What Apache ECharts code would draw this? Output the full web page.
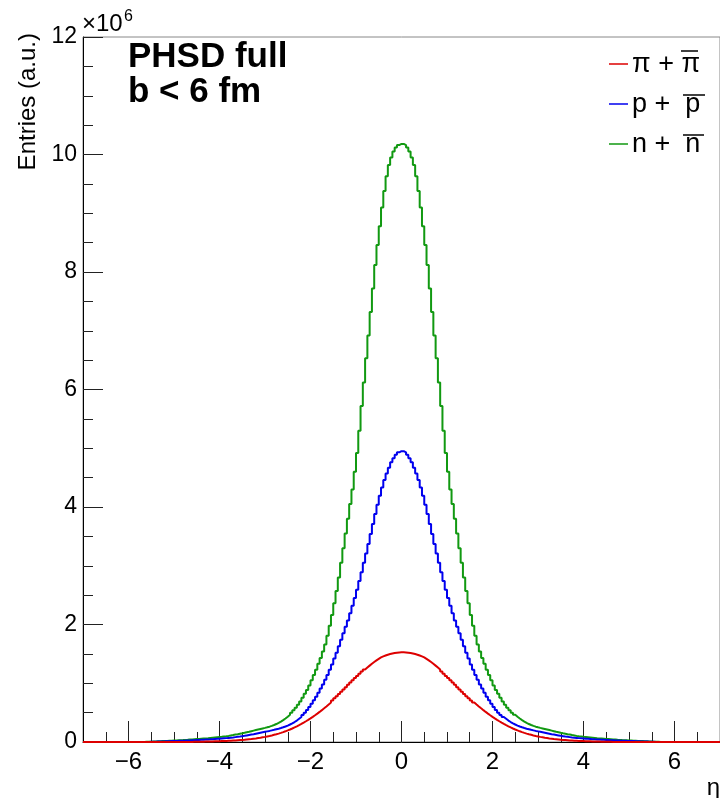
<!DOCTYPE html>
<html>
<head>
<meta charset="utf-8">
<title>PHSD full - eta distribution</title>
<script src="https://cdn.jsdelivr.net/npm/echarts@6/dist/echarts.min.js"></script>
<style>
    html, body { margin: 0; padding: 0; background: #fff; }
    #chart { width: 720px; height: 798px; }
</style>
</head>
<body>
<div id="chart"></div>
<script>
// histogram binning: 240 bins of 0.05 from -6 to 6 (empty outside)
const binStart = -6
const binWidth = 0.05

// entries per bin, in units of 1e6
const pionValues = [
    0, 0, 0, 0, 0, 0, 0, 0, 0, 0,
    0, 0, 0, 0, 0, 0, 0, 0, 0, 0,
    0, 0, 0, 0, 0.001, 0.001, 0.002, 0.002, 0.003, 0.003,
    0.004, 0.005, 0.006, 0.007, 0.008, 0.009, 0.01, 0.011, 0.012, 0.013,
    0.015, 0.016, 0.018, 0.02, 0.022, 0.025, 0.027, 0.03, 0.033, 0.036,
    0.039, 0.043, 0.047, 0.051, 0.056, 0.061, 0.067, 0.073, 0.08, 0.087,
    0.095, 0.103, 0.112, 0.122, 0.132, 0.143, 0.155, 0.168, 0.182, 0.197,
    0.213, 0.23, 0.248, 0.267, 0.287, 0.308, 0.33, 0.353, 0.377, 0.402,
    0.428, 0.455, 0.483, 0.512, 0.542, 0.573, 0.605, 0.638, 0.672, 0.707,
    0.743, 0.78, 0.818, 0.856, 0.895, 0.934, 0.973, 1.012, 1.05, 1.088,
    1.125, 1.162, 1.198, 1.233, 1.267, 1.30, 1.332, 1.362, 1.39, 1.415,
    1.44, 1.457, 1.472, 1.486, 1.497, 1.506, 1.514, 1.52, 1.525, 1.527,
    1.527, 1.525, 1.52, 1.514, 1.506, 1.497, 1.486, 1.472, 1.457, 1.44,
    1.415, 1.39, 1.362, 1.332, 1.30, 1.267, 1.233, 1.198, 1.162, 1.125,
    1.088, 1.05, 1.012, 0.973, 0.934, 0.895, 0.856, 0.818, 0.78, 0.743,
    0.707, 0.672, 0.638, 0.605, 0.573, 0.542, 0.512, 0.483, 0.455, 0.428,
    0.402, 0.377, 0.353, 0.33, 0.308, 0.287, 0.267, 0.248, 0.23, 0.213,
    0.197, 0.182, 0.168, 0.155, 0.143, 0.132, 0.122, 0.112, 0.103, 0.095,
    0.087, 0.08, 0.073, 0.067, 0.061, 0.056, 0.051, 0.047, 0.043, 0.039,
    0.036, 0.033, 0.03, 0.027, 0.025, 0.022, 0.02, 0.018, 0.016, 0.015,
    0.013, 0.012, 0.011, 0.01, 0.009, 0.008, 0.007, 0.006, 0.005, 0.004,
    0.003, 0.003, 0.002, 0.002, 0.001, 0.001, 0, 0, 0, 0,
    0, 0, 0, 0, 0, 0, 0, 0, 0, 0,
    0, 0, 0, 0, 0, 0, 0, 0, 0, 0,
]
const protonValues = [
    0, 0, 0, 0, 0, 0, 0.001, 0.001, 0.002, 0.003,
    0.004, 0.005, 0.007, 0.008, 0.01, 0.011, 0.013, 0.014, 0.016, 0.017,
    0.019, 0.02, 0.022, 0.023, 0.024, 0.026, 0.027, 0.029, 0.031, 0.033,
    0.035, 0.037, 0.039, 0.041, 0.043, 0.045, 0.048, 0.051, 0.054, 0.057,
    0.060, 0.063, 0.066, 0.070, 0.074, 0.078, 0.083, 0.088, 0.093, 0.099,
    0.105, 0.112, 0.119, 0.126, 0.133, 0.141, 0.149, 0.157, 0.165, 0.173,
    0.181, 0.189, 0.198, 0.207, 0.217, 0.227, 0.238, 0.25, 0.264, 0.28,
    0.298, 0.318, 0.34, 0.365, 0.395, 0.425, 0.46, 0.50, 0.545, 0.595,
    0.65, 0.71, 0.77, 0.84, 0.91, 0.98, 1.06, 1.14, 1.23, 1.32,
    1.42, 1.52, 1.63, 1.74, 1.85, 1.96, 2.07, 2.19, 2.32, 2.45,
    2.59, 2.74, 2.89, 3.05, 3.21, 3.37, 3.54, 3.71, 3.88, 4.04,
    4.19, 4.33, 4.46, 4.57, 4.67, 4.76, 4.83, 4.89, 4.93, 4.95,
    4.95, 4.93, 4.89, 4.83, 4.76, 4.67, 4.57, 4.46, 4.33, 4.19,
    4.04, 3.88, 3.71, 3.54, 3.37, 3.21, 3.05, 2.89, 2.74, 2.59,
    2.45, 2.32, 2.19, 2.07, 1.96, 1.85, 1.74, 1.63, 1.52, 1.42,
    1.32, 1.23, 1.14, 1.06, 0.98, 0.91, 0.84, 0.77, 0.71, 0.65,
    0.595, 0.545, 0.50, 0.46, 0.425, 0.395, 0.365, 0.34, 0.318, 0.298,
    0.28, 0.264, 0.25, 0.238, 0.227, 0.217, 0.207, 0.198, 0.189, 0.181,
    0.173, 0.165, 0.157, 0.149, 0.141, 0.133, 0.126, 0.119, 0.112, 0.105,
    0.099, 0.093, 0.088, 0.083, 0.078, 0.074, 0.070, 0.066, 0.063, 0.060,
    0.057, 0.054, 0.051, 0.048, 0.045, 0.043, 0.041, 0.039, 0.037, 0.035,
    0.033, 0.031, 0.029, 0.027, 0.026, 0.024, 0.023, 0.022, 0.02, 0.019,
    0.017, 0.016, 0.014, 0.013, 0.011, 0.01, 0.008, 0.007, 0.005, 0.004,
    0.003, 0.002, 0.001, 0.001, 0, 0, 0, 0, 0, 0,
]
const neutronValues = [
    0, 0, 0, 0, 0.001, 0.001, 0.002, 0.003, 0.004, 0.006,
    0.008, 0.009, 0.011, 0.013, 0.015, 0.017, 0.019, 0.021, 0.023, 0.025,
    0.027, 0.029, 0.031, 0.033, 0.036, 0.038, 0.041, 0.043, 0.046, 0.049,
    0.052, 0.055, 0.058, 0.061, 0.064, 0.068, 0.072, 0.076, 0.080, 0.084,
    0.088, 0.093, 0.098, 0.104, 0.111, 0.118, 0.126, 0.133, 0.141, 0.148,
    0.156, 0.165, 0.174, 0.184, 0.194, 0.204, 0.213, 0.222, 0.231, 0.24,
    0.25, 0.261, 0.274, 0.289, 0.306, 0.326, 0.348, 0.373, 0.40, 0.43,
    0.463, 0.50, 0.54, 0.585, 0.635, 0.69, 0.755, 0.82, 0.885, 0.96,
    1.05, 1.14, 1.23, 1.33, 1.43, 1.54, 1.66, 1.81, 1.98, 2.16,
    2.36, 2.57, 2.80, 3.05, 3.30, 3.55, 3.80, 4.05, 4.30, 4.60,
    4.92, 5.30, 5.72, 6.12, 6.53, 6.92, 7.32, 7.72, 8.12, 8.46,
    8.78, 9.10, 9.38, 9.63, 9.82, 9.95, 10.05, 10.12, 10.16, 10.18,
    10.18, 10.16, 10.12, 10.05, 9.95, 9.82, 9.63, 9.38, 9.10, 8.78,
    8.46, 8.12, 7.72, 7.32, 6.92, 6.53, 6.12, 5.72, 5.30, 4.92,
    4.60, 4.30, 4.05, 3.80, 3.55, 3.30, 3.05, 2.80, 2.57, 2.36,
    2.16, 1.98, 1.81, 1.66, 1.54, 1.43, 1.33, 1.23, 1.14, 1.05,
    0.96, 0.885, 0.82, 0.755, 0.69, 0.635, 0.585, 0.54, 0.50, 0.463,
    0.43, 0.40, 0.373, 0.348, 0.326, 0.306, 0.289, 0.274, 0.261, 0.25,
    0.24, 0.231, 0.222, 0.213, 0.204, 0.194, 0.184, 0.174, 0.165, 0.156,
    0.148, 0.141, 0.133, 0.126, 0.118, 0.111, 0.104, 0.098, 0.093, 0.088,
    0.084, 0.080, 0.076, 0.072, 0.068, 0.064, 0.061, 0.058, 0.055, 0.052,
    0.049, 0.046, 0.043, 0.041, 0.038, 0.036, 0.033, 0.031, 0.029, 0.027,
    0.025, 0.023, 0.021, 0.019, 0.017, 0.015, 0.013, 0.011, 0.009, 0.008,
    0.006, 0.004, 0.003, 0.002, 0.001, 0.001, 0, 0, 0, 0,
]

const xMajorTicks = [-6, -4, -2, 0, 2, 4, 6]
const xMinorTicks = [-6.5, -6, -5.5, -5, -4.5, -4, -3.5, -3, -2.5, -2, -1.5, -1, -0.5,
    0, 0.5, 1, 1.5, 2, 2.5, 3, 3.5, 4, 4.5, 5, 5.5, 6, 6.5]

const legendItems = [
    { label: 'π + π', color: '#dd0000' },
    { label: 'p +  p', color: '#0000ee' },
    { label: 'n +  n', color: '#119911' },
]

const FONT = '"Liberation Sans", Arial, sans-serif'

// turn bin contents into a step outline from -7 to 7
const toSteps = (values) => {
    const pts = [[-7, 0]]
    values.forEach((v, i) => {
        pts.push([+(binStart + i * binWidth).toFixed(3), v])
    })
    pts.push([+(binStart + values.length * binWidth).toFixed(3), 0])
    pts.push([7, 0])
    return pts
}

const minusSign = (v) => String(v).replace('-', '\u2212')

const chart = echarts.init(document.getElementById('chart'), null, { renderer: 'canvas' })

const stepSeries = (name, values, color, z) => ({
    name,
    type: 'line',
    step: 'end',
    data: toSteps(values),
    showSymbol: false,
    silent: true,
    z,
    lineStyle: { color, width: 2 },
})

// legend drawn by hand so the antiparticle bar can sit over the symbol
const legendGraphics = []
legendItems.forEach((item, i) => {
    const y = 64 + i * 40
    legendGraphics.push({
        type: 'line',
        shape: { x1: 609, y1: y, x2: 628, y2: y },
        style: { stroke: item.color, lineWidth: 1.5 },
    })
    legendGraphics.push({
        type: 'text',
        x: 632,
        y: y + 1,
        style: { text: item.label, font: `27px ${FONT}`, fill: '#000', verticalAlign: 'middle' },
    })
})
const overlines = [
    { x1: 681, x2: 698, y: 51 },
    { x1: 683, x2: 705, y: 95 },
    { x1: 683, x2: 704, y: 135 },
]
overlines.forEach((o) => {
    legendGraphics.push({
        type: 'line',
        shape: { x1: o.x1, y1: o.y, x2: o.x2, y2: o.y },
        style: { stroke: '#000', lineWidth: 1.5 },
    })
})

chart.setOption({
    animation: false,
    backgroundColor: '#fff',
    grid: {
        left: 83,
        top: 37,
        width: 638,
        height: 705,
        show: true,
        borderColor: '#888',
        borderWidth: 1,
        backgroundColor: 'transparent',
    },
    xAxis: [
        {
            type: 'value',
            min: -7,
            max: 7,
            position: 'bottom',
            axisLine: { show: true, onZero: false, lineStyle: { color: '#000', width: 1 } },
            axisTick: {
                show: true,
                inside: true,
                length: 21,
                customValues: xMajorTicks,
                lineStyle: { color: '#222' },
            },
            axisLabel: {
                customValues: xMajorTicks,
                formatter: minusSign,
                color: '#000',
                fontSize: 24,
                fontFamily: FONT,
                margin: 8,
            },
            splitLine: { show: false },
        },
        {
            type: 'value',
            min: -7,
            max: 7,
            position: 'bottom',
            axisLine: { show: false },
            axisTick: {
                show: true,
                inside: true,
                length: 10,
                customValues: xMinorTicks,
                lineStyle: { color: '#222' },
            },
            axisLabel: { show: false },
            splitLine: { show: false },
        },
    ],
    yAxis: {
        type: 'value',
        min: 0,
        max: 12,
        interval: 2,
        axisLine: { show: true, onZero: false, lineStyle: { color: '#000', width: 1 } },
        axisTick: { show: true, inside: true, length: 20, lineStyle: { color: '#222' } },
        minorTick: { show: true, splitNumber: 4, length: 10, lineStyle: { color: '#222' } },
        axisLabel: {
            color: '#000',
            fontSize: 23,
            fontFamily: FONT,
            margin: 6,
        },
        splitLine: { show: false },
    },
    graphic: [
        {
            type: 'text',
            x: 82,
            y: 24,
            style: { text: '×10', font: `24px ${FONT}`, fill: '#000', verticalAlign: 'middle' },
        },
        {
            type: 'text',
            x: 124,
            y: 17,
            style: { text: '6', font: `16px ${FONT}`, fill: '#000', verticalAlign: 'middle' },
        },
        {
            type: 'text',
            x: 28,
            y: 33,
            rotation: Math.PI / 2,
            style: {
                text: 'Entries (a.u.)',
                font: `24px ${FONT}`,
                fill: '#000',
                align: 'right',
                verticalAlign: 'middle',
            },
        },
        {
            type: 'text',
            x: 720,
            y: 788,
            style: { text: 'η', font: `24px ${FONT}`, fill: '#000', align: 'right', verticalAlign: 'middle' },
        },
        {
            type: 'text',
            x: 128,
            y: 57,
            style: { text: 'PHSD full', font: `bold 35px ${FONT}`, fill: '#000', verticalAlign: 'middle' },
        },
        {
            type: 'text',
            x: 128,
            y: 92,
            style: { text: 'b < 6 fm', font: `bold 35px ${FONT}`, fill: '#000', verticalAlign: 'middle' },
        },
        ...legendGraphics,
    ],
    series: [
        stepSeries('n + n̄', neutronValues, '#119911', 2),
        stepSeries('p + p̄', protonValues, '#0000ee', 3),
        stepSeries('π + π̄', pionValues, '#dd0000', 4),
    ],
})
</script>
</body>
</html>
